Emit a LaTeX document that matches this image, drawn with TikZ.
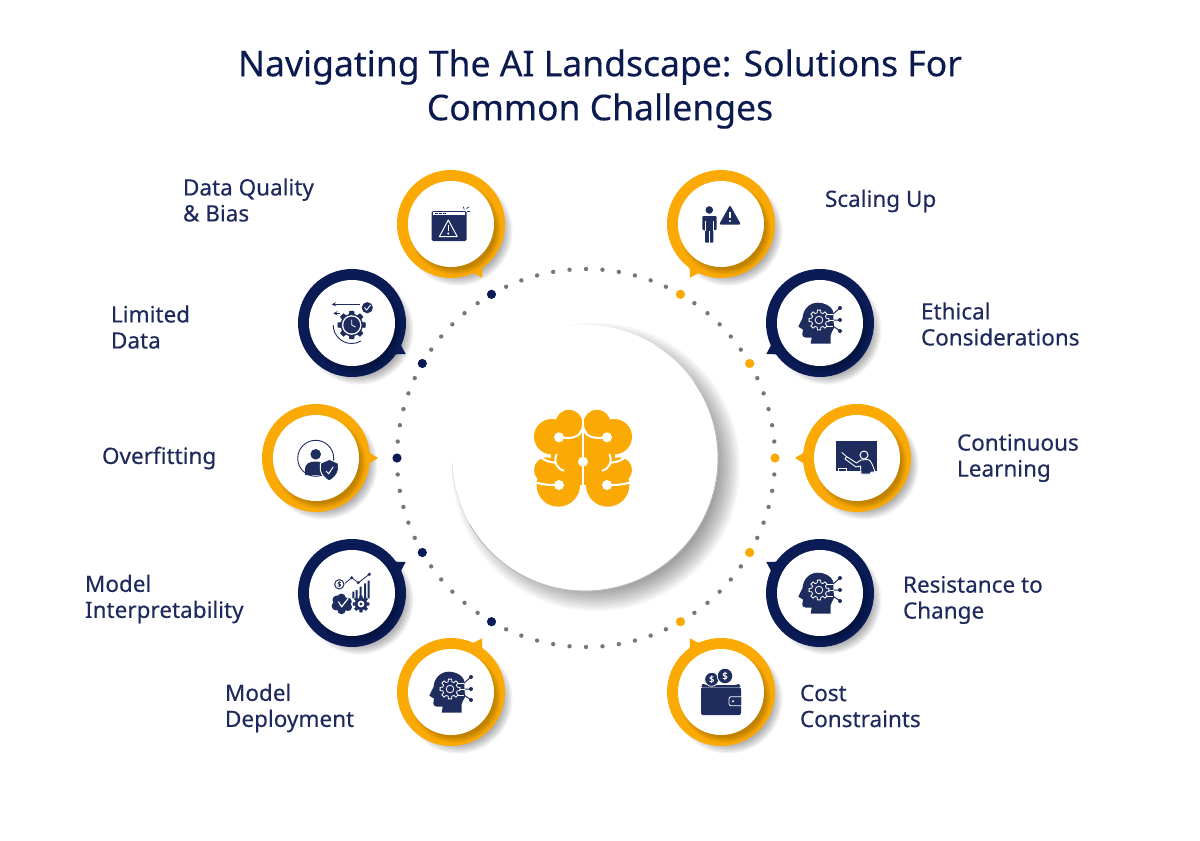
\documentclass[tikz,border=0pt]{standalone}
\usepackage{fontspec}
\setmainfont{Noto Sans}[FakeBold=0.25]
\definecolor{amber}{HTML}{FBAA05}
\definecolor{deepnavy}{HTML}{0A1B56}
\definecolor{iconnavy}{HTML}{1E2C5E}
\definecolor{titlenavy}{HTML}{0B1B4F}
\definecolor{labelnavy}{HTML}{1F2A5C}
\definecolor{dotgray}{HTML}{777777}
\newcommand{\cog}[4]{\begin{scope}[shift={#1}]
  \draw[#2] (-14:#3) \foreach \t in {0,45,...,315} {-- (\t-14:#3) -- (\t-9:#4) -- (\t+9:#4) -- (\t+14:#3)} -- cycle;
\end{scope}}
\begin{document}
\begin{tikzpicture}[x=1pt,y=-1pt,
  ringnode/.style={circle,minimum size=108pt},
  whitenode/.style={circle,fill=white,minimum size=86pt},
  chlabel/.style={anchor=west,align=left,text=labelnavy,font=\fontsize{22.5}{26}\selectfont},
  dollar/.style={font=\fontsize{#1}{#1}\selectfont},
  iconhead/.pic={
    \fill[iconnavy] (-21.7,3.7) -- (-17.5,-5) .. controls (-17,-14) and (-10,-20.3) .. (-2.7,-20.3)
      .. controls (5,-20.3) and (11,-17) .. (13,-12) -- (14,5) .. controls (13,8) and (11,9) .. (10.7,12)
      -- (10.7,20.7) -- (-9.3,20.7) -- (-8.3,14.7) -- (-14.3,14.7) .. controls (-17,14) and (-17.7,13) .. (-17.7,11.3)
      -- (-17,6.5) -- cycle;
    \cog{(-1,-3)}{white,line width=.8pt}{7.5}{10}
    \draw[white,line width=.8pt] (-1,-3) circle[radius=3.8];
    \draw[white,line width=.8pt] (7,-9) -- (13,-9) (9,-3) -- (14,-3) (7,3) -- (13,3);
    \draw[iconnavy,line width=1pt] (13,-9) -- (20,-15) (14,-3) -- (20,-3) (13,3) -- (20,8);
    \fill[iconnavy] (20,-15) circle[radius=2] (20,-3) circle[radius=2] (20,8) circle[radius=2];
  },
  iconwindow/.pic={
    \fill[iconnavy,rounded corners=1.5pt] (-19.3,-13) rectangle (15.7,17);
    \fill[white] (-17.7,-11.7) rectangle (14,-9);
    \draw[iconnavy,line width=1.2pt,dash pattern=on 3pt off 1pt] (-16.5,-10.3) -- (-5,-10.3);
    \draw[white,line width=1pt,line join=round] (-2.7,-4) -- (-11.7,12.7) -- (6.3,12.7) -- cycle;
    \draw[white,line width=1.6pt] (-2.7,0.5) -- (-2.7,6.5);
    \fill[white] (-2.7,9.5) circle[radius=1.1];
    \draw[iconnavy,line width=.7pt] (12.3,-17.3) -- (13.3,-14.5) (15.5,-15.5) -- (18,-17) (16,-12.5) -- (19,-12.5);
  },
  iconclock/.pic={
    \cog{(-.3,2)}{iconnavy,fill=iconnavy}{11}{14}
    \fill[white] (-.3,2) circle[radius=9.8];
    \fill[iconnavy] (-.3,2) circle[radius=8.4];
    \draw[white,line width=.8pt] (-.3,-3.5) -- (-.3,2) -- (3.5,4);
    \draw[iconnavy,line width=.9pt] (-.3,2) ++(180:18.5) arc[start angle=180,end angle=60,radius=18.5];
    \draw[-stealth,iconnavy,line width=.9pt] (8,-18.7) -- (-20.3,-18.7);
    \draw[-stealth,iconnavy,line width=.9pt] (-12,-9.7) -- (-18.7,-9.7);
    \fill[iconnavy] (15.3,-15.3) circle[radius=5.6];
    \draw[white,line width=.9pt] (12.5,-15.5) -- (14.7,-13) -- (18.5,-18);
  },
  iconshield/.pic={
    \draw[iconnavy,line width=.9pt] (-.3,.3) circle[radius=18];
    \fill[iconnavy] (-.3,-3.7) circle[radius=5.3];
    \fill[iconnavy] (-11,17) -- (-11,11) .. controls (-11,6) and (-7,3.5) .. (-.3,3.5)
      .. controls (6,3.5) and (10,6) .. (10,11) -- (10,17) -- cycle;
    \draw[white,fill=iconnavy,line width=1pt,line join=round] (13.3,1.3) -- (22.3,5.3) -- (22.3,12)
      .. controls (21.5,17) and (17,21) .. (13.3,23) .. controls (9.5,21) and (5,17) .. (4.3,12) -- (4.3,5.3) -- cycle;
    \draw[white,line width=1pt] (10,13) -- (12.7,15.7) -- (17.3,8.7);
  },
  iconchart/.pic={
    \fill[iconnavy] (-12.7,-8.7) circle[radius=5.2];
    \fill[white] (-12.7,-8.7) circle[radius=4];
    \node[dollar=7,text=iconnavy] (coinmark) at (-12.7,-8.7) {\$};
    \draw[iconnavy,line width=.8pt] (-7,-9.7) -- (-.3,-15.3) -- (6.3,-10.3) -- (17.3,-18.7);
    \fill[iconnavy] (-.3,-15.3) circle[radius=1.6] (6.3,-10.3) circle[radius=1.6] (17.3,-18.7) circle[radius=1.8];
    \fill[iconnavy] (.3,-1.3) rectangle (2.3,5.3) (3.7,-3) rectangle (5.7,5.3) (7.7,-6.3) rectangle (9.7,5.3)
      (12,-9.7) rectangle (14,5.3) (15.7,-12.3) rectangle (17.7,5.3);
    \fill[iconnavy] (-15,7) circle[radius=4.6] (-16,13) circle[radius=4.4] (-10.5,4.8) circle[radius=4.2]
      (-9.5,11) circle[radius=7.5] (-10.5,17) circle[radius=4.2] (-4,8.5) circle[radius=3.8] (-4,14) circle[radius=4];
    \draw[white,line width=1.2pt] (-13.7,8.7) -- (-10.3,13.7) -- (-3.7,5.3);
    \cog{(9,11)}{iconnavy,fill=iconnavy,line width=.3pt}{6}{8.2}
    \fill[white] (9,11) circle[radius=3.4];
    \fill[iconnavy] (9,11) circle[radius=1.7];
  },
  iconperson/.pic={
    \fill[iconnavy] (-11.7,-14) circle[radius=3.8];
    \fill[iconnavy,rounded corners=1pt] (-18.7,6) -- (-18.7,-8) -- (-4.3,-8) -- (-4.3,6) -- (-7.7,6)
      -- (-7.7,18.7) -- (-16,18.7) -- (-16,6) -- cycle;
    \draw[white,line width=.6pt] (-16,-3) -- (-16,6.5) (-7.7,-3) -- (-7.7,6.5) (-11.8,7) -- (-11.8,19);
    \fill[iconnavy,rounded corners=2pt] (9,-19) -- (-2,.6) -- (20,.6) -- cycle;
    \draw[white,line width=1.6pt] (9,-12.5) -- (9,-6);
    \fill[white] (9,-3) circle[radius=1.1];
  },
  iconboard/.pic={
    \fill[iconnavy] (-21,-17) rectangle (19.7,13);
    \draw[white,line width=.8pt] (-21,13) -- (2,13);
    \draw[white,line width=.8pt] (-18.7,13) -- (-18.7,10.5) -- (-10.3,10.5) -- (-10.3,13);
    \draw[white,line width=.8pt] (-15.3,-5.7) -- (-10,-1);
    \draw[white,fill=iconnavy,line width=.9pt,line join=round] (-10.5,-1.5) -- (-.5,5) -- (4,2) -- (11,1.5)
      .. controls (14,2) and (16,8) .. (18,14) -- (14,14) -- (13.5,16) -- (4,16) -- (3.5,8) -- (-1,9) -- (-12,1) -- cycle;
    \draw[white,fill=iconnavy,line width=1pt] (7,-3) circle[radius=4];
  },
  iconwallet/.pic={
    \fill[iconnavy] (-20,-4) -- (-18.5,-8) -- (-13,-7) -- (14,-7) -- (18,-8) -- (20,-4) -- cycle;
    \draw[white,fill=iconnavy,line width=.8pt] (-9.3,-12.7) circle[radius=7];
    \node[dollar=9,text=white] (coinleft) at (-9.3,-12.7) {\$};
    \draw[white,fill=iconnavy,line width=.8pt] (4,-16) circle[radius=7.8];
    \node[dollar=10,text=white] (coinright) at (4,-16) {\$};
    \fill[white] (-20.6,-5.3) rectangle (20.6,-4.7);
    \fill[iconnavy,rounded corners=2pt] (-20,-4.7) rectangle (20,23);
    \draw[white,fill=iconnavy,line width=.8pt,rounded corners=2pt] (20,4.7) -- (8,4.7) -- (8,13.7) -- (20,13.7);
    \fill[white] (12,9.2) circle[radius=1.2];
  }]
\tikzstyle{every node}=[inner sep=0pt,outer sep=0pt]
\useasboundingbox (0,0) rectangle (1200,841);
\fill[white] (0,0) rectangle (1200,841);
\node[align=center,text=titlenavy,font=\fontsize{35.5}{44}\selectfont] (title) at (600,89) {Navigating The AI Landscape: Solutions For\\Common Challenges};
\foreach \a in {0,5,...,355} \fill[dotgray] (586,458) ++(\a:189) circle[radius=2.2];
\foreach \a/\col in {30/amber,0/amber,-30/amber,-60/amber,60/amber,120/deepnavy,150/deepnavy,180/deepnavy,210/deepnavy,240/deepnavy} \fill[\col] (586,458) ++(\a:189) circle[radius=4.6];
\foreach \r in {122,124,...,144} \fill[black,opacity=.035] (596,467) circle[radius=\r];
\node[circle,fill=white,minimum size=266pt] (hub) at (585,458) {};
\draw[gray!30,line width=.6pt] (585,458) ++(-58:133) arc[start angle=-58,end angle=178,radius=133];
\draw[gray!60,line width=.6pt] (585,458) ++(-35:133) arc[start angle=-35,end angle=150,radius=133];
\foreach \n/\cx/\cy/\col/\ang in {1/451/224/amber/60,2/352/323/deepnavy/30,3/316/458/amber/0,4/352/593/deepnavy/-30,5/451/692/amber/-60,6/721/224/amber/120,7/820/323/deepnavy/150,8/857/458/amber/180,9/820/593/deepnavy/210,10/721/692/amber/240} {
  \foreach \r in {44,45.5,...,55} \fill[black,opacity=.05] (\cx+7,\cy+7) circle[radius=\r];
  \fill[\col] (\cx,\cy) ++(\ang:62) -- ([shift={(\ang+9:50)}]\cx,\cy) -- ([shift={(\ang-9:50)}]\cx,\cy) -- cycle;
  \node[ringnode,fill=\col] (ring\n) at (\cx,\cy) {};
  \foreach \r in {40,41,...,46} \fill[black,opacity=.035] (\cx+4,\cy+5) circle[radius=\r];
  \node[whitenode] (disc\n) at (\cx,\cy) {};
}
\pic at (451,224) {iconwindow};
\pic at (352,323) {iconclock};
\pic at (316,458) {iconshield};
\pic at (352,593) {iconchart};
\pic at (451,692) {iconhead};
\pic at (721,224) {iconperson};
\pic at (820,323) {iconhead};
\pic at (857,458) {iconboard};
\pic at (820,593) {iconhead};
\pic at (721,692) {iconwallet};
\begin{scope}[shift={(583,458)}]
\foreach \s in {1,-1} {
  \begin{scope}[xscale=\s]
    \fill[amber] (-14,-34.7) circle[radius=13.5] (-31.3,-21.3) circle[radius=17.7] (-36.3,12) circle[radius=12.7]
      (-24.7,27) circle[radius=21.7];
    \fill[amber] (-32,-25) rectangle (-1,27);
    \fill[amber] (-46,25) rectangle (-20,30);
    \draw[white,line width=2pt] (-24,-20.7) -- (-15,-20) .. controls (-8,-20) and (0,-23) .. (0,-33);
    \draw[white,line width=2pt] (-49,-5) .. controls (-42,0) and (-35,4.7) .. (-28,4.7);
    \draw[white,line width=2pt] (-26.3,-4) .. controls (-30,4) and (-26,11) .. (-19,12.7);
    \draw[white,line width=2pt] (-47,24.5) .. controls (-40,27) and (-32,27) .. (-24,27);
    \fill[white] (-24,-20.7) circle[radius=5] (-24,27) circle[radius=5];
  \end{scope}
}
\draw[white,line width=2pt] (0,-52) -- (0,-28) (0,3.7) -- (0,50);
\fill[white] (0,3.7) circle[radius=5];
\end{scope}
\node[chlabel] (labelquality) at (183,200) {Data Quality\\\& Bias};
\node[chlabel] (labellimited) at (111,327) {Limited\\Data};
\node[chlabel] (labeloverfit) at (102,458) {Overfitting};
\node[chlabel] (labelinterp) at (85,599) {Model\\Interpretability};
\node[chlabel] (labeldeploy) at (225,708) {Model\\Deployment};
\node[chlabel] (labelscaling) at (825,201) {Scaling Up};
\node[chlabel] (labelethical) at (921,324) {Ethical\\Considerations};
\node[chlabel] (labellearning) at (957,458) {Continuous\\Learning};
\node[chlabel] (labelresist) at (903,600) {Resistance to\\Change};
\node[chlabel] (labelcost) at (800,706) {Cost\\Constraints};
\end{tikzpicture}
\end{document}
